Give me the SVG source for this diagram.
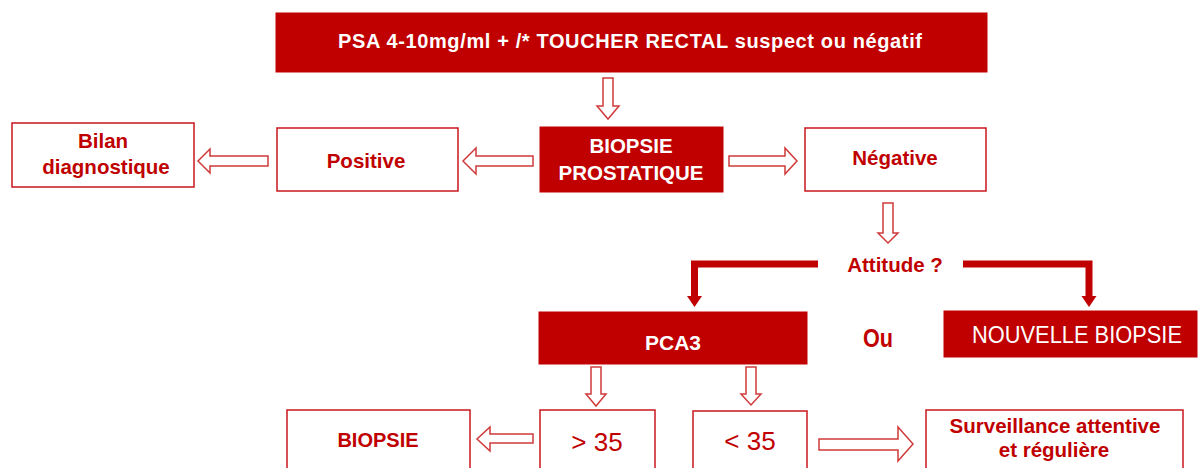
<svg xmlns="http://www.w3.org/2000/svg" width="1198" height="468" viewBox="0 0 1198 468">
<style>
.fill{fill:#C00000;stroke:#C00000;stroke-width:1}
.box{fill:#fff;stroke:#C8161D;stroke-width:1.5}
.arr{fill:#fff;stroke:#D03A3A;stroke-width:1.5;stroke-linejoin:miter}
.thick{fill:none;stroke:#C00000;stroke-width:7}
.head{fill:#C00000}
.wb{font-family:"Liberation Sans",Arial,sans-serif;font-weight:bold;fill:#fff;text-anchor:middle}
.rb{font-family:"Liberation Sans",Arial,sans-serif;font-weight:bold;fill:#C00000;text-anchor:middle;font-size:20.5px}
.ra{font-family:"Liberation Sans",Arial,sans-serif;font-weight:bold;fill:#C00000;text-anchor:middle}
.rn{font-family:"Liberation Sans",Arial,sans-serif;fill:#C00000;text-anchor:middle;font-size:26px}
</style>
<rect width="1198" height="468" fill="#fff"/>
<g id="connectors">
<polygon class="arr" points="603,78 613,78 613,106 619,106 608,119 597,106 603,106"/>
<polygon class="arr" points="533,156 476,156 476,148 463,161 476,174 476,166 533,166"/>
<polygon class="arr" points="268,156 210,156 210,149 198,161 210,173 210,166 268,166"/>
<polygon class="arr" points="729,156 785,156 785,148 797,161 785,174 785,166 729,166"/>
<polygon class="arr" points="883,203 893,203 893,233 898,233 888,243 878,233 883,233"/>
<path class="thick" d="M818,264 H694.5 V298"/>
<polygon class="head" points="687,296 702,296 694.5,307"/>
<path class="thick" d="M963,264 H1089 V298"/>
<polygon class="head" points="1081.5,296 1096.5,296 1089,307"/>
<polygon class="arr" points="591,367 601,367 601,394 606,394 596,406 586,394 591,394"/>
<polygon class="arr" points="746,367 756,367 756,394 761,394 751,405 741,394 746,394"/>
<polygon class="arr" points="533,434 490,434 490,427 477,439 490,451 490,443 533,443"/>
<polygon class="arr" points="819,439 898,439 898,427 913,444 898,461 898,450 819,450"/>
</g>
<g id="psa">
<rect class="fill" x="276" y="13" width="711" height="59"/>
<text class="wb" x="630" y="48" font-size="20" textLength="584" lengthAdjust="spacing">PSA 4-10mg/ml + /* TOUCHER RECTAL suspect ou négatif</text>
</g>
<g id="biopsie-prostatique">
<rect class="fill" x="540" y="127" width="183" height="65"/>
<text class="wb" x="631" y="153" font-size="20.5">BIOPSIE</text>
<text class="wb" x="631" y="180" font-size="20.5">PROSTATIQUE</text>
</g>
<g id="positive">
<rect class="box" x="277" y="128" width="181" height="63"/>
<text class="rb" x="366" y="168" font-size="21">Positive</text>
</g>
<g id="bilan">
<rect class="box" x="12" y="123" width="182" height="64"/>
<text class="rb" x="103" y="148">Bilan</text>
<text class="rb" x="106" y="174">diagnostique</text>
</g>
<g id="negative">
<rect class="box" x="805" y="128" width="181" height="63"/>
<text class="rb" x="895" y="165" font-size="21">Négative</text>
</g>
<g id="attitude">
<text class="rb" x="895" y="272" font-size="21">Attitude ?</text>
</g>
<g id="pca3">
<rect class="fill" x="539" y="312" width="268" height="52"/>
<text class="wb" x="673" y="350" font-size="21">PCA3</text>
</g>
<g id="ou">
<text class="ra" x="878" y="347" font-size="25" textLength="30" lengthAdjust="spacingAndGlyphs">Ou</text>
</g>
<g id="nouvelle-biopsie">
<rect class="fill" x="944" y="311" width="253" height="46"/>
<text x="1077" y="343" font-family="Liberation Sans, Arial, sans-serif" font-size="23" fill="#fff" text-anchor="middle" textLength="210" lengthAdjust="spacingAndGlyphs">NOUVELLE BIOPSIE</text>
</g>
<g id="biopsie">
<rect class="box" x="287" y="410" width="183" height="62"/>
<text class="ra" x="378" y="447" font-size="20">BIOPSIE</text>
</g>
<g id="gt35">
<rect class="box" x="540" y="410" width="115" height="62"/>
<text class="rn" x="597" y="451">&gt; 35</text>
</g>
<g id="lt35">
<rect class="box" x="693" y="411" width="114" height="61"/>
<text class="rn" x="750" y="450">&lt; 35</text>
</g>
<g id="surveillance">
<rect class="box" x="926" y="410" width="257" height="62"/>
<text class="rb" x="1055" y="433">Surveillance attentive</text>
<text class="rb" x="1054" y="457">et régulière</text>
</g>
</svg>
